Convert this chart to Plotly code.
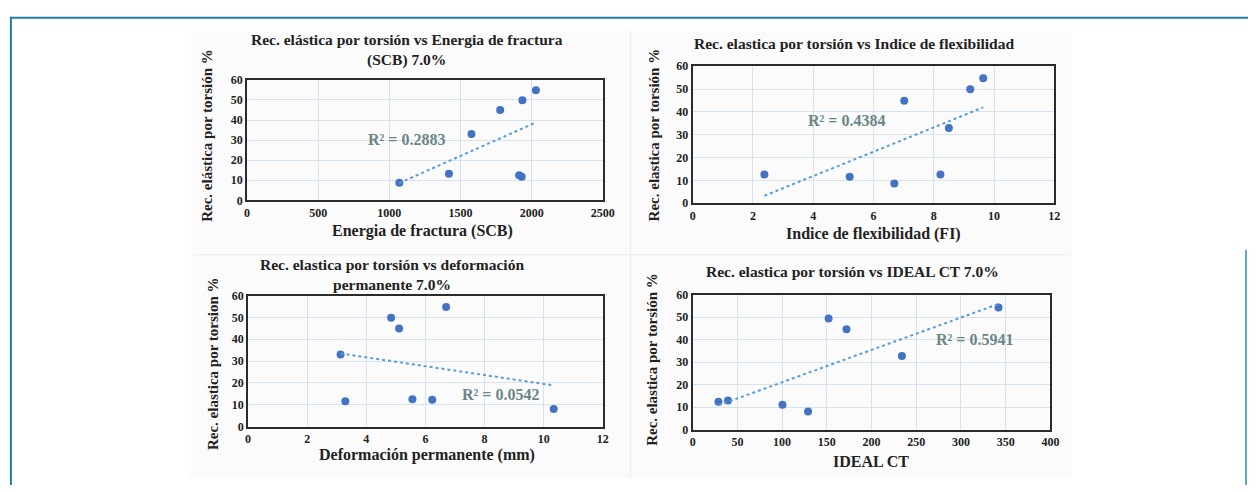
import numpy as np
import plotly.graph_objects as go

W, H = 1260, 492

# ---- data ----
scb_x = [1070, 1419, 1577, 1779, 1935, 2030, 1912, 1930]
scb_y = [8.8, 13.2, 33.1, 45.0, 49.8, 54.8, 12.5, 11.7]

fi_x = [2.38, 5.21, 6.69, 7.02, 8.22, 8.50, 9.21, 9.64]
fi_y = [12.6, 11.6, 8.6, 44.9, 12.6, 33.0, 49.9, 54.7]

def_x = [3.13, 3.29, 4.84, 5.11, 5.56, 6.23, 6.70, 10.34]
def_y = [33.0, 11.6, 49.8, 44.9, 12.6, 12.3, 54.8, 8.1]

ct_x = [28.8, 39.5, 100.4, 129, 152, 172, 234, 342]
ct_y = [12.4, 12.9, 11.1, 8.1, 49.4, 44.6, 32.7, 54.3]

r2_labels = ["R² = 0.2883", "R² = 0.4384", "R² = 0.0542", "R² = 0.5941"]
titles = ["Rec. elástica por torsión vs Energia de fractura<br>(SCB) 7.0%",
          "Rec. elastica por torsión vs Indice de flexibilidad",
          "Rec. elastica por torsión vs deformación<br>permanente 7.0%",
          "Rec. elastica por torsión vs IDEAL CT 7.0%"]
x_titles = ["Energia de fractura (SCB)", "Indice de flexibilidad (FI)",
            "Deformación permanente (mm)", "IDEAL CT"]
y_titles = ["Rec. elástica por torsión %", "Rec. elastica por torsión %",
            "Rec. elastica por torsion %", "Rec. elastica por torsión %"]
x_ranges = [(0, 2500, 500), (0, 12, 2), (0, 12, 2), (0, 400, 50)]

# ---- layout in pixels ----
boxes = [(247, 607, 75, 199), (698, 1064, 61, 202), (248, 607, 297, 432), (698, 1060, 296, 435)]
title_pos = [(409, 44), (861, 38), (394, 275), (860, 272)]
xt_pos = [(425, 231), (881, 234), (429, 461), (878, 468)]
yt_pos = [(207, 132), (659, 132), (212, 367), (656, 363)]
r2_pos = [(408, 136), (854, 117), (503, 399), (983, 342)]

FONT = "Liberation Serif"
MARK = "#4472c4"
TREND = "#5b9bd5"
GRID = "#d6e2ec"

def px(x):
    return x / W

def py(y):
    return 1 - y / H

fig = go.Figure()
data = [(scb_x, scb_y), (fi_x, fi_y), (def_x, def_y), (ct_x, ct_y)]
annotations = []
for i, (xs, ys) in enumerate(data):
    n = "" if i == 0 else str(i + 1)
    xa, ya = "x" + n, "y" + n
    fig.add_trace(go.Scatter(x=xs, y=ys, mode="markers", xaxis=xa, yaxis=ya,
                             marker=dict(color=MARK, size=8), showlegend=False))
    k, b = np.polyfit(xs, ys, 1)
    tx = np.array([min(xs), max(xs)])
    fig.add_trace(go.Scatter(x=tx, y=k * tx + b, mode="lines", xaxis=xa, yaxis=ya,
                             line=dict(color=TREND, width=2, dash="dot"), showlegend=False))
    l, r, t, bt = boxes[i]
    x0, x1, dt = x_ranges[i]
    common = dict(showgrid=True, gridcolor=GRID, gridwidth=1, zeroline=False,
                  showline=True, linecolor="#2b2b2b", linewidth=2, mirror=True,
                  ticks="", tickfont=dict(family=FONT, size=12, color="#222", weight="bold"))
    fig.layout["xaxis" + n] = dict(domain=[px(l), px(r)], anchor=ya, range=[x0, x1],
                                   dtick=dt, tick0=0, **common)
    fig.layout["yaxis" + n] = dict(domain=[py(bt), py(t)], anchor=xa, range=[0, 60],
                                   dtick=10, tick0=0, **common)
    annotations.append(dict(text=titles[i], x=px(title_pos[i][0]), y=py(title_pos[i][1]),
                            xref="paper", yref="paper", showarrow=False,
                            font=dict(family=FONT, size=15.5, color="#222", weight="bold"),
                            xanchor="center", yanchor="middle"))
    annotations.append(dict(text=x_titles[i], x=px(xt_pos[i][0]), y=py(xt_pos[i][1]),
                            xref="paper", yref="paper", showarrow=False,
                            font=dict(family=FONT, size=16, color="#222", weight="bold"),
                            xanchor="center", yanchor="middle"))
    annotations.append(dict(text=y_titles[i], x=px(yt_pos[i][0]), y=py(yt_pos[i][1]),
                            xref="paper", yref="paper", showarrow=False, textangle=-90,
                            font=dict(family=FONT, size=15, color="#222", weight="bold"),
                            xanchor="center", yanchor="middle"))
    annotations.append(dict(text=r2_labels[i], x=px(r2_pos[i][0]), y=py(r2_pos[i][1]),
                            xref="paper", yref="paper", showarrow=False,
                            font=dict(family=FONT, size=16, color="#6b8589", weight="bold"),
                            xanchor="center", yanchor="middle"))

shapes = [
    dict(type="rect", xref="paper", yref="paper", x0=px(190), x1=px(1082), y0=py(485), y1=py(25),
         fillcolor="#fbfbfb", line=dict(width=0), layer="below"),
    dict(type="line", xref="paper", yref="paper", x0=px(193), x1=px(1080), y0=py(255), y1=py(255),
         line=dict(color="#e3edf3", width=1), layer="below"),
    dict(type="line", xref="paper", yref="paper", x0=px(635), x1=px(635), y0=py(485), y1=py(25),
         line=dict(color="#e3edf3", width=1), layer="below"),
    dict(type="line", xref="paper", yref="paper", x0=px(8), x1=px(1260), y0=py(11), y1=py(11),
         line=dict(color="#1f7fa6", width=2)),
    dict(type="line", xref="paper", yref="paper", x0=px(8), x1=px(8), y0=py(10), y1=py(492),
         line=dict(color="#1f7fa6", width=2)),
    dict(type="line", xref="paper", yref="paper", x0=px(1258), x1=px(1258), y0=py(250), y1=py(492),
         line=dict(color="#5fa8c4", width=2)),
]

fig.update_layout(width=W, height=H, margin=dict(l=0, r=0, t=0, b=0),
                  paper_bgcolor="white", plot_bgcolor="white",
                  annotations=annotations, shapes=shapes, showlegend=False)
post = (
    "var de=document.documentElement, bd=document.body;"
    "de.style.margin='0';de.style.padding='0';de.style.overflow='hidden';de.style.height='492px';"
    "bd.style.margin='0';bd.style.padding='0';bd.style.overflow='hidden';bd.style.height='492px';"
    "var d=document.getElementById('{plot_id}');"
    "if(d){d.style.display='block';if(d.parentElement){d.parentElement.style.height='492px';"
    "d.parentElement.style.overflow='hidden';}}"
)
fig.write_html("out.html", config={"displayModeBar": False}, post_script=post)
